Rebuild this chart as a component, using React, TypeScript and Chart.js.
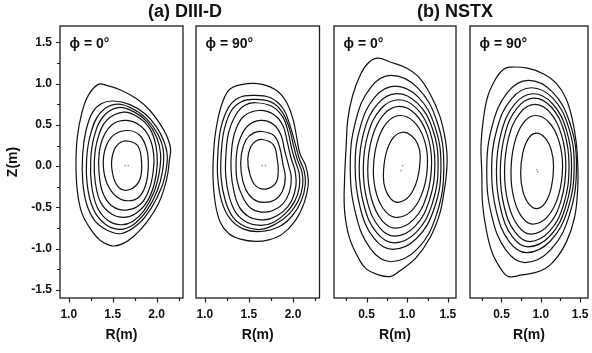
import React, { useEffect, useRef } from 'react';
import { Chart, registerables } from 'chart.js';

Chart.register(...registerables);

const W = 592;
const H = 353;
const FONT = "'Liberation Sans', Arial, Helvetica, sans-serif";

// ---- axis tick values ----
const Z_MIN = -1.6;
const Z_MAX = 1.7;
const Y_MAJOR = [-1.5, -1.0, -0.5, 0, 0.5, 1.0, 1.5];
const Y_MINOR = [-1.25, -0.75, -0.25, 0.25, 0.75, 1.25];
const DIIID_R_MAJOR = [1.0, 1.5, 2.0];
const DIIID_R_MINOR = [1.25, 1.75, 2.25];
const NSTX_R_MAJOR = [0.5, 1.0, 1.5];
const NSTX_R_MINOR = [0.25, 0.75, 1.25];

// ---- flux-surface contours, [R, Z] pairs (m) ----
const DIIID_PHI0: number[][][] = [
  [[1.336,0.992],[1.431,0.980],[1.583,0.927],[1.772,0.817],[1.924,0.675],[2.038,0.513],[2.113,0.371],[2.159,0.209],[2.144,0.067],[2.129,-0.075],[2.095,-0.237],[2.019,-0.460],[1.886,-0.683],[1.734,-0.857],[1.602,-0.947],[1.488,-0.967],[1.355,-0.898],[1.241,-0.752],[1.146,-0.561],[1.097,-0.298],[1.082,0.027],[1.097,0.351],[1.146,0.635],[1.222,0.858]],
  [[1.507,0.790],[1.696,0.746],[1.867,0.635],[2.0,0.473],[2.087,0.290],[2.121,0.128],[2.106,-0.055],[2.057,-0.257],[1.943,-0.501],[1.791,-0.703],[1.602,-0.817],[1.450,-0.784],[1.298,-0.663],[1.203,-0.460],[1.158,-0.176],[1.158,0.148],[1.196,0.432],[1.272,0.655],[1.374,0.760]],
  [[1.526,0.750],[1.715,0.702],[1.886,0.574],[2.011,0.392],[2.076,0.189],[2.068,-0.055],[2.007,-0.298],[1.886,-0.541],[1.734,-0.711],[1.575,-0.768],[1.412,-0.703],[1.279,-0.521],[1.211,-0.237],[1.203,0.087],[1.249,0.392],[1.355,0.643]],
  [[1.564,0.710],[1.742,0.658],[1.894,0.533],[2.0,0.351],[2.045,0.148],[2.030,-0.075],[1.969,-0.318],[1.856,-0.541],[1.727,-0.671],[1.594,-0.711],[1.450,-0.663],[1.325,-0.501],[1.260,-0.237],[1.249,0.067],[1.287,0.351],[1.393,0.602]],
  [[1.620,0.655],[1.791,0.594],[1.924,0.452],[1.992,0.250],[2.007,0.027],[1.973,-0.217],[1.886,-0.440],[1.753,-0.582],[1.628,-0.622],[1.488,-0.582],[1.363,-0.440],[1.302,-0.197],[1.291,0.067],[1.329,0.331],[1.431,0.554]],
  [[1.658,0.554],[1.810,0.493],[1.916,0.351],[1.966,0.148],[1.962,-0.055],[1.916,-0.278],[1.818,-0.460],[1.651,-0.533],[1.488,-0.480],[1.385,-0.318],[1.344,-0.075],[1.347,0.168],[1.401,0.371],[1.507,0.513]],
  [[1.677,0.432],[1.810,0.371],[1.886,0.209],[1.905,0.006],[1.878,-0.217],[1.803,-0.371],[1.677,-0.420],[1.545,-0.371],[1.438,-0.217],[1.393,0.006],[1.420,0.229],[1.514,0.379]],
  [[1.689,0.302],[1.791,0.237],[1.829,0.027],[1.803,-0.176],[1.677,-0.290],[1.552,-0.237],[1.488,-0.014],[1.514,0.189],[1.590,0.290]],
];
const DIIID_PHI0_AXIS = [[1.640,0.006],[1.677,0.006]];

const DIIID_PHI90: number[][][] = [
  [[1.480,1.000],[1.650,0.992],[1.821,0.911],[1.935,0.757],[2.003,0.554],[2.041,0.351],[2.079,0.148],[2.143,0.006],[2.174,-0.176],[2.155,-0.338],[2.106,-0.501],[2.011,-0.683],[1.878,-0.825],[1.726,-0.894],[1.575,-0.914],[1.404,-0.886],[1.271,-0.817],[1.176,-0.683],[1.120,-0.460],[1.093,-0.136],[1.101,0.189],[1.131,0.473],[1.195,0.757],[1.290,0.939]],
  [[1.537,0.858],[1.745,0.829],[1.889,0.696],[1.965,0.493],[2.025,0.270],[2.072,0.087],[2.125,-0.055],[2.140,-0.217],[2.094,-0.420],[1.992,-0.602],[1.840,-0.736],[1.632,-0.793],[1.442,-0.764],[1.290,-0.643],[1.195,-0.440],[1.146,-0.136],[1.150,0.189],[1.184,0.473],[1.271,0.716],[1.385,0.829]],
  [[1.556,0.809],[1.753,0.777],[1.878,0.655],[1.960,0.452],[2.005,0.250],[2.050,0.075],[2.102,-0.075],[2.109,-0.237],[2.060,-0.420],[1.954,-0.582],[1.802,-0.703],[1.632,-0.768],[1.461,-0.736],[1.321,-0.622],[1.233,-0.420],[1.184,-0.136],[1.188,0.189],[1.222,0.452],[1.302,0.675],[1.415,0.781]],
  [[1.575,0.769],[1.764,0.724],[1.885,0.594],[1.945,0.412],[1.985,0.209],[2.030,0.047],[2.071,-0.095],[2.071,-0.257],[2.018,-0.428],[1.916,-0.574],[1.776,-0.683],[1.632,-0.720],[1.480,-0.683],[1.358,-0.574],[1.279,-0.379],[1.237,-0.115],[1.241,0.168],[1.271,0.412],[1.347,0.615],[1.449,0.736]],
  [[1.613,0.675],[1.780,0.627],[1.885,0.493],[1.935,0.290],[1.975,0.108],[2.022,-0.055],[2.033,-0.237],[1.984,-0.420],[1.889,-0.549],[1.753,-0.634],[1.632,-0.651],[1.499,-0.614],[1.393,-0.501],[1.328,-0.298],[1.298,-0.055],[1.305,0.209],[1.347,0.432],[1.442,0.606]],
  [[1.632,0.554],[1.780,0.505],[1.865,0.371],[1.905,0.189],[1.950,0.006],[1.980,-0.136],[1.958,-0.318],[1.882,-0.460],[1.764,-0.541],[1.639,-0.557],[1.518,-0.509],[1.431,-0.379],[1.366,-0.176],[1.355,0.067],[1.385,0.290],[1.480,0.481]],
  [[1.650,0.420],[1.783,0.371],[1.848,0.229],[1.885,0.027],[1.912,-0.136],[1.882,-0.298],[1.791,-0.411],[1.662,-0.440],[1.548,-0.399],[1.461,-0.278],[1.412,-0.075],[1.415,0.148],[1.468,0.319],[1.548,0.400]],
  [[1.650,0.323],[1.776,0.262],[1.821,0.087],[1.832,-0.075],[1.802,-0.209],[1.688,-0.278],[1.575,-0.237],[1.510,-0.095],[1.487,0.087],[1.518,0.229],[1.575,0.302]],
];
const DIIID_PHI90_AXIS = [[1.650,0.006],[1.688,0.006]];

const NSTX_PHI0: number[][][] = [
  [[0.64,1.31],[0.80,1.26],[0.99,1.19],[1.15,1.07],[1.29,0.86],[1.40,0.61],[1.46,0.37],[1.49,0.13],[1.48,-0.12],[1.45,-0.33],[1.40,-0.58],[1.28,-0.87],[1.11,-1.11],[0.91,-1.27],[0.79,-1.34],[0.62,-1.31],[0.50,-1.25],[0.42,-1.15],[0.29,-0.87],[0.23,-0.54],[0.23,-0.16],[0.25,0.25],[0.27,0.57],[0.33,0.86],[0.43,1.12],[0.53,1.26]],
  [[0.80,1.10],[1.125,0.953],[1.363,0.55],[1.45,0],[1.363,-0.58],[1.125,-1.005],[0.80,-1.16],[0.55,-1.005],[0.367,-0.58],[0.30,0],[0.367,0.55],[0.55,0.953]],
  [[0.85,0.97],[1.133,0.84],[1.339,0.485],[1.415,0],[1.335,-0.505],[1.118,-0.875],[0.82,-1.01],[0.59,-0.875],[0.422,-0.505],[0.36,0],[0.426,0.485],[0.605,0.84]],
  [[0.87,0.88],[1.125,0.765],[1.312,0.45],[1.38,0.02],[1.308,-0.455],[1.11,-0.803],[0.84,-0.93],[0.625,-0.808],[0.468,-0.475],[0.41,-0.02],[0.472,0.43],[0.64,0.759]],
  [[0.89,0.805],[1.115,0.701],[1.28,0.418],[1.34,0.03],[1.274,-0.41],[1.095,-0.732],[0.85,-0.85],[0.655,-0.74],[0.512,-0.44],[0.46,-0.03],[0.518,0.388],[0.675,0.693]],
  [[0.90,0.724],[1.10,0.632],[1.246,0.382],[1.30,0.04],[1.241,-0.356],[1.08,-0.646],[0.86,-0.752],[0.688,-0.657],[0.561,-0.396],[0.515,-0.04],[0.567,0.342],[0.708,0.622]],
  [[0.91,0.614],[1.08,0.54],[1.204,0.337],[1.25,0.06],[1.20,-0.282],[1.065,-0.531],[0.88,-0.623],[0.732,-0.548],[0.624,-0.342],[0.584,-0.06],[0.628,0.277],[0.747,0.524]],
  [[0.94,0.411],[1.05,0.372],[1.13,0.266],[1.16,0.12],[1.124,-0.16],[1.025,-0.365],[0.89,-0.44],[0.799,-0.397],[0.732,-0.28],[0.707,-0.12],[0.738,0.146],[0.824,0.34]],
];
const NSTX_PHI0_AXIS = [[0.945,0.006],[0.925,-0.055]];

const NSTX_PHI90: number[][][] = [
  [[0.60,1.20],[0.83,1.19],[1.03,1.12],[1.20,1.00],[1.32,0.82],[1.40,0.57],[1.45,0.29],[1.47,0.01],[1.47,-0.26],[1.43,-0.62],[1.33,-0.91],[1.17,-1.15],[1.00,-1.27],[0.76,-1.32],[0.59,-1.34],[0.51,-1.27],[0.39,-1.07],[0.31,-0.79],[0.26,-0.46],[0.25,-0.08],[0.24,0.25],[0.27,0.57],[0.33,0.86],[0.44,1.08],[0.52,1.17]],
  [[0.84,1.04],[1.147,0.901],[1.371,0.52],[1.453,0],[1.366,-0.585],[1.127,-1.013],[0.80,-1.17],[0.557,-1.02],[0.378,-0.61],[0.313,-0.05],[0.384,0.495],[0.577,0.894]],
  [[0.88,0.951],[1.152,0.824],[1.351,0.476],[1.424,0],[1.343,-0.525],[1.122,-0.908],[0.82,-1.049],[0.598,-0.915],[0.435,-0.55],[0.375,-0.05],[0.443,0.45],[0.628,0.817]],
  [[0.90,0.878],[1.146,0.76],[1.325,0.439],[1.391,0],[1.317,-0.49],[1.116,-0.848],[0.84,-0.979],[0.638,-0.856],[0.49,-0.52],[0.436,-0.06],[0.498,0.409],[0.668,0.752]],
  [[0.91,0.825],[1.135,0.714],[1.299,0.413],[1.359,0],[1.292,-0.458],[1.11,-0.792],[0.86,-0.915],[0.673,-0.802],[0.535,-0.493],[0.485,-0.07],[0.542,0.378],[0.698,0.705]],
  [[0.92,0.748],[1.119,0.648],[1.265,0.374],[1.318,0],[1.259,-0.413],[1.099,-0.714],[0.88,-0.825],[0.71,-0.724],[0.585,-0.448],[0.539,-0.07],[0.59,0.339],[0.73,0.638]],
  [[0.93,0.614],[1.104,0.532],[1.23,0.307],[1.277,0],[1.226,-0.352],[1.089,-0.609],[0.90,-0.703],[0.761,-0.62],[0.658,-0.392],[0.621,-0.08],[0.662,0.267],[0.776,0.521]],
  [[0.94,0.40],[1.051,0.346],[1.132,0.20],[1.162,0],[1.134,-0.258],[1.056,-0.446],[0.95,-0.515],[0.847,-0.458],[0.772,-0.303],[0.744,-0.09],[0.77,0.155],[0.842,0.334]],
];
const NSTX_PHI90_AXIS = [[0.949,-0.042],[0.961,-0.067]];

// ---- panel layout ----
const PANELS = [
  { contours: DIIID_PHI0, axis: DIIID_PHI0_AXIS, rMin: 0.9, rMax: 2.3, major: DIIID_R_MAJOR, minor: DIIID_R_MINOR, left: 60, right: 183, phi: '\u03D5 = 0\u00B0', yAxis: true, title: '(a) DIII-D', titleX: 185 },
  { contours: DIIID_PHI90, axis: DIIID_PHI90_AXIS, rMin: 0.9, rMax: 2.3, major: DIIID_R_MAJOR, minor: DIIID_R_MINOR, left: 196, right: 319.5, phi: '\u03D5 = 90\u00B0', yAxis: false },
  { contours: NSTX_PHI0, axis: NSTX_PHI0_AXIS, rMin: 0.1, rMax: 1.6, major: NSTX_R_MAJOR, minor: NSTX_R_MINOR, left: 334, right: 456, phi: '\u03D5 = 0\u00B0', yAxis: false, title: '(b) NSTX', titleX: 455 },
  { contours: NSTX_PHI90, axis: NSTX_PHI90_AXIS, rMin: 0.1, rMax: 1.6, major: NSTX_R_MAJOR, minor: NSTX_R_MINOR, left: 470, right: 592, phi: '\u03D5 = 90\u00B0', yAxis: false },
];

const TOP = 26;
const X_AXIS_H = 55;
const Y_AXIS_W = 60;

// make the contour lines closed, smooth loops
const closeLoopPlugin = {
  id: 'closeLoop',
  beforeDatasetsDraw(chart: any) {
    chart.data.datasets.forEach((ds: any, i: number) => {
      const meta = chart.getDatasetMeta(i);
      const line: any = meta.dataset;
      if (ds.closed && line) {
        line._loop = true;
        line._fullLoop = true;
        line._pointsUpdated = false;
        line._path = undefined;
        line._segments = undefined;
        line.updateControlPoints(chart.chartArea, 'x');
      }
    });
  },
};

const framePlugin = {
  id: 'frame',
  afterDraw(chart: any, _args: any, opts: any) {
    const { ctx, chartArea: a, scales } = chart;
    const x = scales.x;
    const y = scales.y;
    ctx.save();
    ctx.strokeStyle = '#1e1e1e';
    ctx.lineWidth = 1.3;
    ctx.strokeRect(a.left, a.top, a.right - a.left, a.bottom - a.top);
    ctx.lineWidth = 1.2;
    ctx.beginPath();
    opts.xMajor.forEach((v: number) => {
      const px = Math.round(x.getPixelForValue(v)) + 0.5;
      ctx.moveTo(px, a.bottom);
      ctx.lineTo(px, a.bottom + 4.5);
    });
    opts.xMinor.forEach((v: number) => {
      const px = Math.round(x.getPixelForValue(v)) + 0.5;
      ctx.moveTo(px, a.bottom);
      ctx.lineTo(px, a.bottom + 3);
    });
    if (opts.yTicks) {
      Y_MAJOR.forEach((v) => {
        const py = Math.round(y.getPixelForValue(v)) + 0.5;
        ctx.moveTo(a.left, py);
        ctx.lineTo(a.left - 4, py);
      });
      Y_MINOR.forEach((v) => {
        const py = Math.round(y.getPixelForValue(v)) + 0.5;
        ctx.moveTo(a.left, py);
        ctx.lineTo(a.left - 3, py);
      });
    }
    ctx.stroke();
    ctx.fillStyle = '#111';
    ctx.textBaseline = 'middle';
    ctx.textAlign = 'left';
    ctx.font = `bold 14px ${FONT}`;
    ctx.fillText(opts.phi, a.left + 9.5, 44);
    if (opts.title) {
      ctx.font = `bold 18px ${FONT}`;
      ctx.textAlign = 'center';
      ctx.fillText(opts.title, opts.titleX, 12.5);
    }
    ctx.restore();
  },
};

function makeConfig(p: any): any {
  const datasets: any[] = p.contours.map((c: number[][]) => ({
    data: c.map(([r, z]) => ({ x: r, y: z })),
    showLine: true,
    closed: true,
    borderColor: '#111',
    borderWidth: 1.2,
    pointRadius: 0,
    tension: 0.4,
    fill: false,
  }));
  datasets.push({
    data: p.axis.map(([r, z]: number[]) => ({ x: r, y: z })),
    showLine: false,
    pointRadius: 0.8,
    pointBorderWidth: 0,
    backgroundColor: '#8c8c8c',
    borderColor: '#8c8c8c',
  });
  const tickFont = { family: FONT, size: 12, weight: 'bold' };
  const titleFont = { family: FONT, size: 14, weight: 'bold' };
  return {
    type: 'scatter',
    data: { datasets },
    options: {
      responsive: false,
      animation: false,
      events: [],
      layout: {
        padding: {
          left: p.yAxis ? p.left - Y_AXIS_W : p.left,
          right: W - p.right,
          top: TOP,
          bottom: 0,
        },
      },
      plugins: {
        legend: { display: false },
        tooltip: { enabled: false },
        frame: {
          xMajor: p.major,
          xMinor: p.minor,
          yTicks: p.yAxis,
          phi: p.phi,
          title: p.title,
          titleX: p.titleX,
        },
      },
      scales: {
        x: {
          type: 'linear',
          min: p.rMin,
          max: p.rMax,
          grid: { display: false, drawTicks: false },
          border: { display: false },
          afterBuildTicks: (s: any) => {
            s.ticks = p.major.map((v: number) => ({ value: v }));
          },
          afterFit: (s: any) => {
            s.height = X_AXIS_H;
            s.paddingLeft = 0;
            s.paddingRight = 0;
          },
          ticks: {
            autoSkip: false,
            maxRotation: 0,
            padding: 9,
            color: '#111',
            font: tickFont,
            callback: (v: any) => Number(v).toFixed(1),
          },
          title: {
            display: true,
            text: 'R(m)',
            color: '#111',
            font: titleFont,
            padding: { top: 0, bottom: 9 },
          },
        },
        y: {
          type: 'linear',
          display: p.yAxis,
          min: Z_MIN,
          max: Z_MAX,
          grid: { display: false, drawTicks: false },
          border: { display: false },
          afterBuildTicks: (s: any) => {
            s.ticks = Y_MAJOR.map((v) => ({ value: v }));
          },
          afterFit: (s: any) => {
            s.width = p.yAxis ? Y_AXIS_W : 0;
            s.paddingTop = 0;
            s.paddingBottom = 0;
          },
          ticks: {
            autoSkip: false,
            padding: 8,
            color: '#111',
            font: tickFont,
            callback: (v: any) => Number(v).toFixed(1),
          },
          title: {
            display: true,
            text: 'Z(m)',
            color: '#111',
            font: titleFont,
            padding: { top: 5, bottom: 0 },
          },
        },
      },
    },
    plugins: [closeLoopPlugin, framePlugin],
  };
}

export default function App() {
  const r0 = useRef<HTMLCanvasElement>(null);
  const r1 = useRef<HTMLCanvasElement>(null);
  const r2 = useRef<HTMLCanvasElement>(null);
  const r3 = useRef<HTMLCanvasElement>(null);
  const refs = [r0, r1, r2, r3];

  useEffect(() => {
    document.body.style.margin = '0';
    const charts = PANELS.map((p, i) => new Chart(refs[i].current as HTMLCanvasElement, makeConfig(p)));
    return () => charts.forEach((c) => c.destroy());
  }, []);

  return (
    <div style={{ position: 'relative', width: W, height: H, background: '#fff', overflow: 'hidden' }}>
      {PANELS.map((_, i) => (
        <canvas
          key={i}
          ref={refs[i]}
          width={W}
          height={H}
          style={{ position: 'absolute', left: 0, top: 0, width: W, height: H }}
        />
      ))}
    </div>
  );
}
